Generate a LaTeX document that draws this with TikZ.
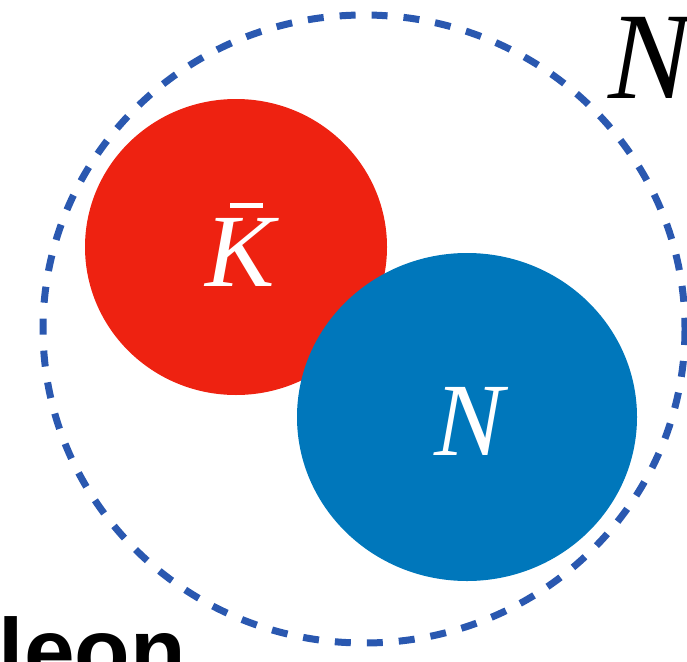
\documentclass[tikz,border=0pt]{standalone}
\usepackage{fontspec}
\setmainfont{Liberation Serif}
\newfontfamily\labelsans{Liberation Sans}
\definecolor{kred}{HTML}{EE2211}
\definecolor{nblue}{HTML}{0077BB}
\definecolor{dashblue}{HTML}{2A58B0}
\tikzset{
  particle/.style={inner sep=0pt, text=white, font=\fontsize{104}{104}\selectfont\itshape},
  molecule/.style={draw=dashblue, line width=7pt, dash pattern=on 16pt off 16pt},
}
\begin{document}
\begin{tikzpicture}[x=1pt,y=-1pt]
\useasboundingbox (0,0) rectangle (687,661);
\clip (0,0) rectangle (687,661);
\draw[molecule] (364,329) ellipse [x radius=321, y radius=314];
\fill[kred] (236,247) ellipse [x radius=151, y radius=148];
\fill[nblue] (467,417) ellipse [x radius=170, y radius=164];
\node[particle] (kbar) at (240,252) {K};
\fill[white] (230,203) rectangle (263,208);
\node[particle] (n) at (469,421) {N};
\node[inner sep=0pt, anchor=base west, font=\fontsize{124}{124}\selectfont\itshape] (title) at (608,98) {N};
\node[inner sep=0pt, anchor=base east, font=\labelsans\bfseries\fontsize{91}{91}\selectfont] (label) at (186,682) {Nucleon};
\end{tikzpicture}
\end{document}
